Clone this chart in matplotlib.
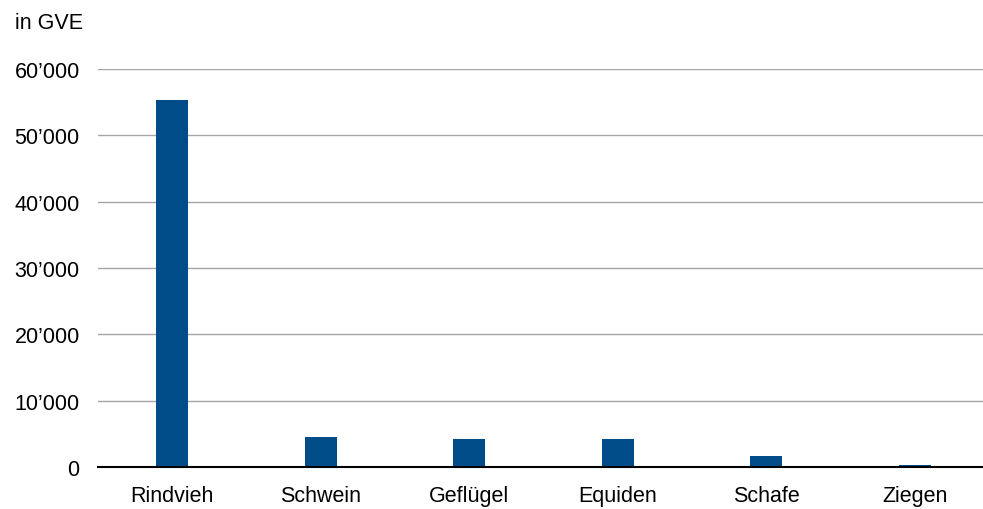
import matplotlib
matplotlib.use("Agg")
import matplotlib.pyplot as plt
from matplotlib.ticker import FuncFormatter

plt.rcParams['font.family'] = ['Liberation Sans', 'DejaVu Sans']

categories = ["Rindvieh", "Schwein", "Geflügel", "Equiden", "Schafe", "Ziegen"]
values = [55300, 4500, 4150, 4150, 1700, 250]
yticks = [0, 10000, 20000, 30000, 40000, 50000, 60000]

fig = plt.figure(figsize=(9.83, 5.10), dpi=100)
ax = fig.add_axes([0.0994, 0.0824, 0.907, 0.7803])

x = list(range(len(categories)))
ax.bar(x, values, width=0.215, color="#004C89", zorder=3)

ax.set_xlim(-0.5, len(categories) - 0.5)
ax.set_ylim(0, 60000)
ax.set_yticks(yticks)
ax.yaxis.set_major_formatter(FuncFormatter(lambda v, p: f"{int(v):,}".replace(",", "\u2019")))
ax.set_xticks(x)
ax.set_xticklabels(categories)

ax.grid(axis="y", color="#A6A6A6", linewidth=1.0, zorder=0)
for s in ["top", "right", "left"]:
    ax.spines[s].set_visible(False)
ax.spines["bottom"].set_color("black")
ax.spines["bottom"].set_linewidth(1.5)
ax.spines["bottom"].set_zorder(4)

ax.tick_params(axis="both", length=0, labelsize=15.5, colors="black")
ax.tick_params(axis="y", pad=13)
ax.tick_params(axis="x", pad=13)

fig.text(0.015, 0.975, "in GVE", fontsize=15.5, ha="left", va="top")

fig.savefig("out.png", dpi=100)
